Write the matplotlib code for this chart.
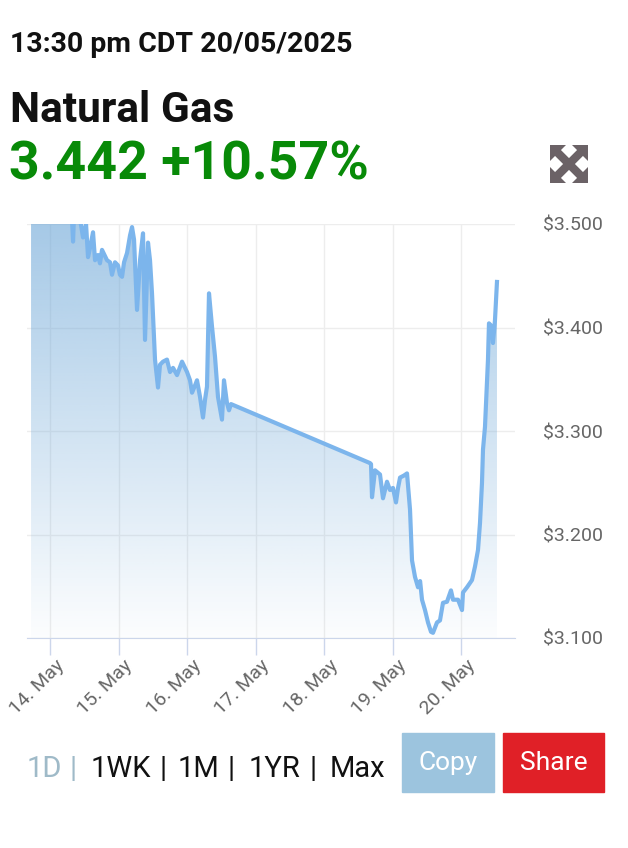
import matplotlib
matplotlib.use('Agg')
import matplotlib.pyplot as plt
import matplotlib.dates as mdates
import matplotlib.transforms as mtransforms
import numpy as np
import pandas as pd
from matplotlib.patches import Rectangle, Polygon

plt.rcParams['font.family'] = ['Roboto', 'DejaVu Sans']

# price data (CDT)
times = [
    '2025-05-13 17:21', '2025-05-13 22:15', '2025-05-14 03:30', '2025-05-14 07:00',
    '2025-05-14 07:42', '2025-05-14 08:04', '2025-05-14 08:25', '2025-05-14 10:31',
    '2025-05-14 11:34', '2025-05-14 12:37', '2025-05-14 13:19', '2025-05-14 14:01',
    '2025-05-14 15:04', '2025-05-14 15:46', '2025-05-14 16:49', '2025-05-14 17:30',
    '2025-05-14 18:13', '2025-05-14 19:58', '2025-05-14 21:01', '2025-05-14 21:43',
    '2025-05-14 22:46', '2025-05-14 23:49', '2025-05-15 00:30', '2025-05-15 01:14',
    '2025-05-15 01:56', '2025-05-15 02:59', '2025-05-15 04:02', '2025-05-15 04:44',
    '2025-05-15 05:26', '2025-05-15 06:29', '2025-05-15 07:32', '2025-05-15 08:35',
    '2025-05-15 09:17', '2025-05-15 10:20', '2025-05-15 11:02', '2025-05-15 11:44',
    '2025-05-15 12:47', '2025-05-15 13:50', '2025-05-15 14:32', '2025-05-15 15:35',
    '2025-05-15 16:59', '2025-05-15 18:03', '2025-05-15 19:06', '2025-05-15 20:30',
    '2025-05-15 22:15', '2025-05-15 23:18', '2025-05-16 00:00', '2025-05-16 01:03',
    '2025-05-16 01:45', '2025-05-16 02:48', '2025-05-16 03:30', '2025-05-16 04:33',
    '2025-05-16 05:36', '2025-05-16 06:18', '2025-05-16 07:00', '2025-05-16 07:42',
    '2025-05-16 08:45', '2025-05-16 09:48', '2025-05-16 10:51', '2025-05-16 12:15',
    '2025-05-16 12:57', '2025-05-16 14:00', '2025-05-16 14:42', '2025-05-16 15:25',
    '2025-05-18 16:07', '2025-05-18 16:28', '2025-05-18 16:49', '2025-05-18 17:52',
    '2025-05-18 19:37', '2025-05-18 20:40', '2025-05-18 22:04', '2025-05-18 23:07',
    '2025-05-19 00:10', '2025-05-19 01:13', '2025-05-19 01:56', '2025-05-19 02:38',
    '2025-05-19 04:02', '2025-05-19 05:05', '2025-05-19 06:08', '2025-05-19 06:50',
    '2025-05-19 07:53', '2025-05-19 08:56', '2025-05-19 09:40', '2025-05-19 10:20',
    '2025-05-19 11:23', '2025-05-19 12:26', '2025-05-19 13:29', '2025-05-19 14:11',
    '2025-05-19 15:35', '2025-05-19 16:38', '2025-05-19 17:41', '2025-05-19 19:05',
    '2025-05-19 20:29', '2025-05-19 21:12', '2025-05-19 22:57', '2025-05-20 00:21',
    '2025-05-20 00:42', '2025-05-20 02:06', '2025-05-20 03:51', '2025-05-20 04:54',
    '2025-05-20 05:57', '2025-05-20 06:39', '2025-05-20 07:21', '2025-05-20 07:42',
    '2025-05-20 08:24', '2025-05-20 09:27', '2025-05-20 09:48', '2025-05-20 10:51',
    '2025-05-20 11:12', '2025-05-20 11:54', '2025-05-20 12:36',
]
prices = [
    3.515, 3.520, 3.510, 3.505,
    3.505, 3.483, 3.510, 3.505,
    3.487, 3.500, 3.468, 3.477,
    3.492, 3.465, 3.470, 3.462,
    3.475, 3.465, 3.463, 3.451,
    3.463, 3.460, 3.451, 3.449,
    3.463, 3.472, 3.489, 3.497,
    3.485, 3.417, 3.465, 3.491,
    3.388, 3.482, 3.465, 3.433,
    3.369, 3.342, 3.364, 3.367,
    3.369, 3.357, 3.361, 3.354,
    3.367, 3.361, 3.357, 3.349,
    3.337, 3.344, 3.349, 3.333,
    3.313, 3.330, 3.343, 3.433,
    3.401, 3.372, 3.333, 3.311,
    3.349, 3.327, 3.320, 3.326,
    3.269, 3.268, 3.236, 3.262,
    3.258, 3.235, 3.251, 3.243,
    3.245, 3.231, 3.245, 3.255,
    3.257, 3.259, 3.224, 3.175,
    3.159, 3.149, 3.155, 3.137,
    3.127, 3.115, 3.106, 3.105,
    3.115, 3.117, 3.134, 3.135,
    3.146, 3.137, 3.137, 3.127,
    3.144, 3.149, 3.156, 3.169,
    3.185, 3.211, 3.250, 3.282,
    3.304, 3.369, 3.404, 3.401,
    3.385, 3.407, 3.444,
]
yticks = [3.1, 3.2, 3.3, 3.4, 3.5]
xdays = ['2025-05-14', '2025-05-15', '2025-05-16', '2025-05-17',
         '2025-05-18', '2025-05-19', '2025-05-20']
ranges = ['1WK', '|', '1M', '|', '1YR', '|', 'Max']
range_x = [91, 159, 178, 228, 249, 310, 330]

t = mdates.date2num(pd.to_datetime(times))
p = np.array(prices)
W, H = 628, 848
line_c = '#7cb5ec'

fig = plt.figure(figsize=(W / 100, H / 100), dpi=100)
ax = fig.add_axes([27 / W, 210 / H, 488 / W, 414 / H])
x0 = mdates.date2num(pd.Timestamp('2025-05-13 15:56'))
x1 = mdates.date2num(pd.Timestamp('2025-05-20 18:55'))
ax.set_xlim(x0, x1)
ax.set_ylim(3.1, 3.5)

# gradient area under the line
poly = ax.fill_between(t, p, 3.1, facecolor='none', edgecolor='none')
grad = np.zeros((256, 1, 4))
grad[:, :, :3] = matplotlib.colors.to_rgb('#6fa8d8')
grad[:, 0, 3] = np.linspace(0.62, 0.02, 256)
im = ax.imshow(grad, extent=[x0, x1, 3.1, 3.5], aspect='auto', origin='upper', zorder=1)
path = poly.get_paths()[0]
im.set_clip_path(path, transform=ax.transData)
ax.plot(t, p, color=line_c, lw=3, zorder=3, solid_joinstyle='round')

ax.set_yticks(yticks)
ax.set_yticklabels([r'\$%.3f' % v for v in yticks])
ax.yaxis.tick_right()
ax.tick_params(axis='y', length=0, pad=20, labelsize=14, labelcolor='#666666')
ax.set_xticks(mdates.date2num(pd.to_datetime(xdays)))
ax.set_xticklabels([pd.Timestamp(d).strftime('%d. %b') for d in xdays],
                   rotation=45, ha='right', rotation_mode='anchor')
ax.tick_params(axis='x', length=12, width=1, color='#ccd6eb', pad=1,
               labelsize=14, labelcolor='#666666')
shift = mtransforms.ScaledTranslation(5 / 100, 0, fig.dpi_scale_trans)
for lab in ax.get_xticklabels():
    lab.set_transform(lab.get_transform() + shift)
ax.grid(True, color='#ededed', lw=1)
ax.set_axisbelow(True)
for s in ['top', 'left', 'right']:
    ax.spines[s].set_visible(False)
ax.spines['bottom'].set_color('#ccd6eb')

# header text
fig.text(10 / W, 1 - 52 / H, '13:30 pm CDT 20/05/2025', fontsize=20.5, fontweight='bold',
         color='#111111', va='baseline')
fig.text(10 / W, 1 - 122 / H, 'Natural Gas', fontsize=30.6, fontweight='bold',
         color='#111111', va='baseline')
fig.text(9 / W, 1 - 179 / H, '3.442 +10.57%', fontsize=38.6, fontweight='bold',
         color='#088a08', va='baseline')

# expand icon
ic = fig.add_axes([550 / W, 1 - 183 / H, 38 / W, 38 / H])
ic.set_xlim(0, 38)
ic.set_ylim(0, 38)
ic.axis('off')
icon_c = '#6b6266'
ic.plot([5, 33], [5, 33], color=icon_c, lw=6, solid_capstyle='butt')
ic.plot([5, 33], [33, 5], color=icon_c, lw=6, solid_capstyle='butt')
for cx, cy, sx, sy in [(0, 0, 1, 1), (38, 0, -1, 1), (0, 38, 1, -1), (38, 38, -1, -1)]:
    ic.add_patch(Polygon([(cx, cy), (cx + sx * 16, cy), (cx, cy + sy * 16)],
                         closed=True, color=icon_c, lw=0))

# range selector and buttons
fig.text(27 / W, 1 - 777 / H, '1D', fontsize=21, color='#9fbac8', va='baseline')
fig.text(70 / W, 1 - 777 / H, '|', fontsize=21, color='#9fbac8', va='baseline')
for lab, px in zip(ranges, range_x):
    fig.text(px / W, 1 - 777 / H, lab, fontsize=21, color='#111111', va='baseline')
fig.patches.append(Rectangle((402 / W, 1 - 792 / H), 92 / W, 59 / H, color='#9cc4de',
                             transform=fig.transFigure, figure=fig))
fig.patches.append(Rectangle((503 / W, 1 - 792 / H), 101 / W, 59 / H, color='#e02027',
                             transform=fig.transFigure, figure=fig))
fig.text(448 / W, 1 - 763 / H, 'Copy', fontsize=19, color='white', ha='center', va='center')
fig.text(553.5 / W, 1 - 763 / H, 'Share', fontsize=19, color='white', ha='center', va='center')

fig.savefig('out.png', dpi=100)
